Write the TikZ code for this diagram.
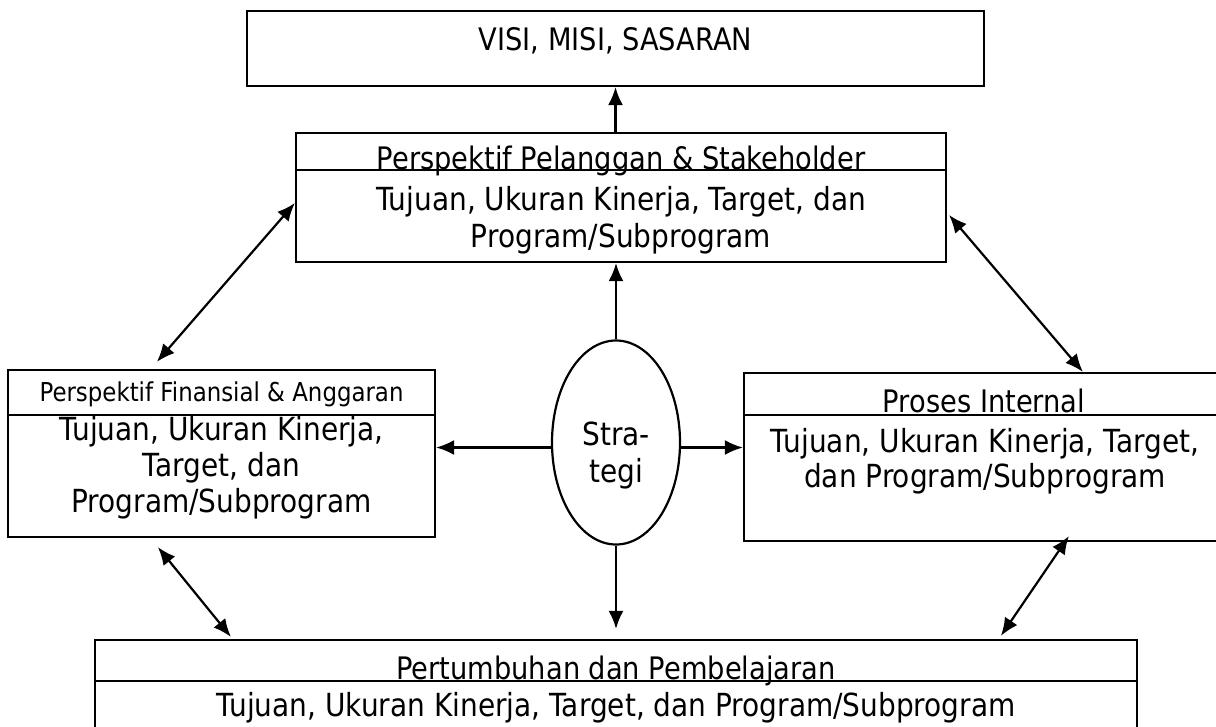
\documentclass[tikz,border=0pt]{standalone}
\usepackage{fontspec}
\setmainfont{DejaVu Sans}[FakeStretch=0.88]
\usetikzlibrary{arrows.meta,calc,shapes.geometric}

\begin{document}
\begin{tikzpicture}[x=1pt,y=-1pt,
  box/.style={draw, line width=2.2pt, rectangle, inner sep=0pt},
  divider/.style={line width=1.8pt},
  lbl/.style={anchor=base, inner sep=0pt, font=\fontsize{31.8}{36}\selectfont},
  headlbl/.style={anchor=base, inner sep=0pt, font=\fontsize{31}{36}\selectfont},
  smalllbl/.style={anchor=base, inner sep=0pt, font=\fontsize{26}{30}\selectfont},
  tip/.tip={Latex[length=18pt,width=15pt]},
  conn/.style={line width=2.2pt, -tip},
  biconn/.style={line width=2.2pt, tip-tip}]

\clip (0,0) rectangle (1216,726);

% boxes
\node[box, minimum width=737pt, minimum height=75pt]  (visi) at (615.5,48.5) {};
\node[box, minimum width=650pt, minimum height=129pt] (stk)  at (621,197.5) {};
\node[box, minimum width=427pt, minimum height=167pt] (fin)  at (221.5,453.5) {};
\node[box, minimum width=482pt, minimum height=168pt] (pro)  at (985,457) {};
\node[box, minimum width=1042pt, minimum height=120pt] (bot) at (616,700) {};
\node[draw, line width=2.2pt, ellipse, inner sep=0pt,
      minimum width=128pt, minimum height=204pt] (strat) at (616,442.5) {};

% header dividers
\draw[divider] ($(stk.north west)+(0,38)$) -- ($(stk.north east)+(0,38)$);
\draw[divider] ($(fin.north west)+(0,46)$) -- ($(fin.north east)+(0,46)$);
\draw[divider] ($(pro.north west)+(0,43)$) -- ($(pro.north east)+(0,43)$);
\draw[divider] ($(bot.north west)+(0,42)$) -- ($(bot.north east)+(0,42)$);

% texts
\node[headlbl] (tvisi) at (615.5,50) {VISI, MISI, SASARAN};

\node[headlbl] (tstkh) at (621,169) {Perspektif Pelanggan \& Stakeholder};
\node[lbl] (tstk1) at (621,210) {Tujuan, Ukuran Kinerja, Target, dan};
\node[lbl] (tstk2) at (621,247) {Program/Subprogram};

\node[smalllbl] (tfinh) at (221.5,401) {Perspektif Finansial \& Anggaran};
\node[lbl] (tfin1) at (221.5,440) {Tujuan, Ukuran Kinerja,};
\node[lbl] (tfin2) at (221.5,476) {Target, dan};
\node[lbl] (tfin3) at (221.5,512) {Program/Subprogram};

\node[headlbl] (tproh) at (984,412) {Proses Internal};
\node[lbl] (tpro1) at (985,452) {Tujuan, Ukuran Kinerja, Target,};
\node[lbl] (tpro2) at (985,487) {dan Program/Subprogram};

\node[headlbl] (tboth) at (616,679) {Pertumbuhan dan Pembelajaran};
\node[lbl] (tbot1) at (616,716) {Tujuan, Ukuran Kinerja, Target, dan Program/Subprogram};

\node[lbl] (tstr1) at (616,445) {Stra-};
\node[lbl] (tstr2) at (616,482) {tegi};

% connectors
\coordinate (sl) at ($(strat.west)+(0,5)$);
\coordinate (sr) at ($(strat.east)+(0,5)$);
\coordinate (sb) at ($(strat.south |- bot.north)+(0,-10)$);

\draw[conn] (visi.south |- stk.north) -- (visi.south);
\draw[conn] (strat.north) -- (strat.north |- stk.south);
\draw[conn] (sl) -- (sl -| fin.east);
\draw[conn] (sr) -- (sr -| pro.west);
\draw[conn] (strat.south) -- (sb);

\draw[biconn] ($(stk.west)+(0,5.5)$) -- ($(fin.north west)+(150,-7)$);
\draw[biconn] ($(stk.east)+(2,17.5)$) -- ($(pro.north west)+(340,0)$);
\draw[biconn] ($(fin.south west)+(151,9)$) -- ($(bot.north west)+(137,-2)$);
\draw[biconn] ($(pro.south west)+(326,-6)$) -- ($(bot.north west)+(907,-3)$);
\end{tikzpicture}
\end{document}
